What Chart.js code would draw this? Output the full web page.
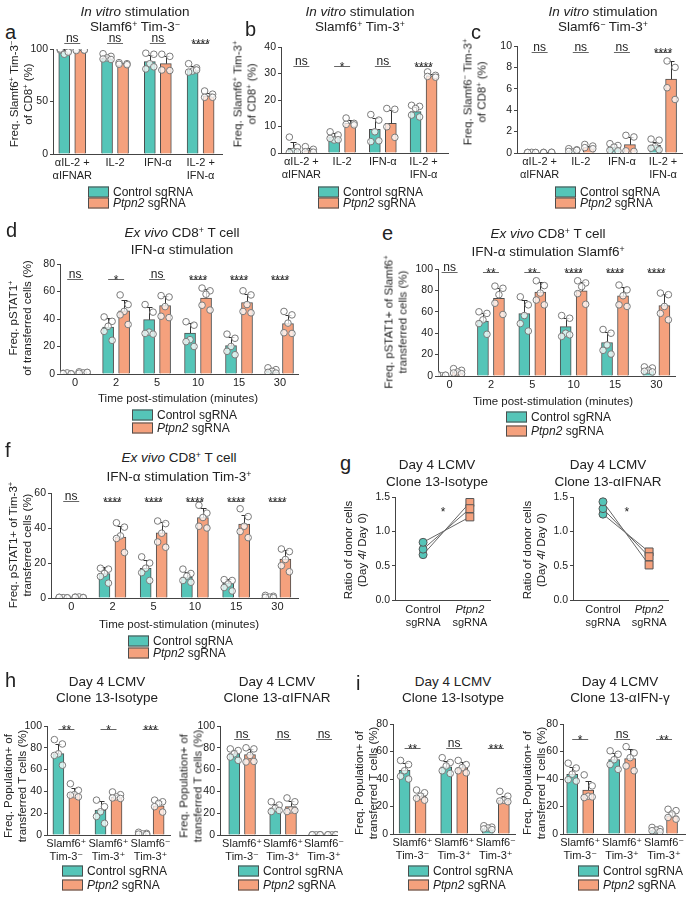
<!DOCTYPE html>
<html><head><meta charset="utf-8">
<script src="https://cdn.jsdelivr.net/npm/chart.js@4.4.1/dist/chart.umd.min.js"></script>
<style>
html,body{margin:0;padding:0;background:#fff}
body{width:689px;height:900px;position:relative;overflow:hidden;font-family:"Liberation Sans",Arial,Helvetica,sans-serif;color:#222}
canvas{position:absolute}
.t{position:absolute;white-space:nowrap;transform:translate(-50%,-50%);font-size:13.5px;line-height:1}
.let{position:absolute;white-space:nowrap;transform:translate(0,-50%);font-size:20px;line-height:1}
.yt{position:absolute;white-space:nowrap;transform:translate(-50%,-50%) rotate(-90deg);font-size:11.5px;line-height:13.5px;text-align:center}
.xt{position:absolute;white-space:nowrap;transform:translate(-50%,-50%);font-size:11.5px;line-height:1}
.lg{position:absolute;white-space:nowrap;transform:translate(0,-50%);font-size:12px;line-height:1}
.bx{position:absolute;width:19px;height:9px;border:1px solid #4d4d4d;transform:translate(0,-50%)}
sup{font-size:65%;vertical-align:0;position:relative;top:-0.5em;line-height:0}
</style>
</head><body>
<script>
// ---------------- DATA ----------------
const inVitroCats = [["αIL-2 +","αIFNAR"],"IL-2","IFN-α",["IL-2 +","IFN-α"]];
const timeCats = ["0","2","5","10","15","30"];
const popCats = [["Slamf6⁺","Tim-3⁻"],["Slamf6⁺","Tim-3⁺"],["Slamf6⁻","Tim-3⁺"]];

// a
const aCtrlMean = [97.6, 91, 88, 80.5];
const aCtrlSD   = [2.2, 2.2, 6.5, 3.2];
const aCtrlPts  = [[99,98,95,100,97],[95.5,93,91.5,90.5,90],[96,95,86,81,83],[86,82,79,78,80]];
const aPtpnMean = [98.8, 86, 86, 55.5];
const aPtpnSD   = [0.6, 1, 7, 3];
const aPtpnPts  = [[99.5,99,98.5,99],[87,86,85.5,85],[95,93,80,79.5],[60,57,54,54]];
const aSig = ["ns","ns","ns","****"];

// b
const bCtrlMean = [1.8, 6.1, 8.9, 15.6];
const bCtrlSD   = [2.4, 1.3, 4.3, 1.9];
const bCtrlPts  = [[6,2.2,0.6,0.2,0.4],[8,6.8,4.9,5.5,5],[14.5,12.4,8,4.3,4.6],[18,17.6,16.8,14.3,13.6]];
const bPtpnMean = [0.9, 11.2, 11.2, 29.1];
const bPtpnSD   = [1, 1.3, 5.2, 0.8];
const bPtpnPts  = [[2.4,1.4,0.5,0.3],[13.2,11.2,10.8,10.6],[16.8,16.5,9.9,5.9],[30.6,29.3,28.9,28.6]];
const bSig = ["ns","*","ns","****"];

// c
const cCtrlMean = [0.05, 0.25, 0.55, 0.72];
const cCtrlSD   = [0.03, 0.15, 0.3, 0.35];
const cCtrlPts  = [[0.05,0.03,0.06,0.04,0.05],[0.4,0.3,0.1,0.15,0.25],[0.87,0.7,0.55,0.25,0.2],[1.3,1.2,0.6,0.45,0.3]];
const cPtpnMean = [0.05, 0.55, 0.78, 6.9];
const cPtpnSD   = [0.03, 0.15, 0.75, 1.7];
const cPtpnPts  = [[0.06,0.05,0.04,0.07],[0.8,0.65,0.5,0.4],[1.65,1.5,0.2,0.15],[8.6,8.0,6.1,5.0]];
const cSig = ["ns","ns","ns","****"];

// d
const dCtrlMean = [0.4, 34.2, 39.5, 29.8, 20.6, 2.7];
const dCtrlSD   = [0.3, 6.5, 9.5, 7.5, 6.4, 1.6];
const dCtrlPts  = [[0.5,0.2,0.8,0.3,0.1],[41.5,38.3,34.7,31,24.5],[50.5,45,30.5,29.5,29],[38,35.5,25,23.5,20],[29,26,20,16.5,14],[4.5,3.2,2,1.2,0.7]];
const dPtpnMean = [1, 46, 49.7, 55.3, 52, 36.6];
const dPtpnSD   = [0.5, 8, 7, 6.5, 6.5, 6.5];
const dPtpnPts  = [[1.6,1.0,0.8,0.6,1.2],[57.5,50.5,45.5,43,36],[57,56,49,42,41],[62.5,60.5,58,50,46.5],[60.5,57.5,50.5,45.5,44.5],[45.5,43,37,30,29.5]];
const dSig = ["ns","*","ns","****","****","****"];

// e
const eCtrlMean = [0.8, 51.4, 58.3, 46.1, 31.3, 5.3];
const eCtrlSD   = [0.6, 7.5, 12.5, 8.5, 10, 2];
const eCtrlPts  = [[1.5,0.5,0.2,1,0.8],[60,58.5,52.5,49,39],[74,66.5,56.5,49,42],[56.5,54,40,37,38.5],[43.5,40,29,24,20.5],[8.5,7.5,5.3,4.4,3.8]];
const ePtpnMean = [3.8, 72.7, 78.4, 79.6, 74.9, 65.8];
const ePtpnSD   = [1.8, 10, 9, 8, 8.5, 10.5];
const ePtpnPts  = [[6.9,5.3,3.8,2.8,2.2],[84,82,76,68,57.5],[89,84.5,77.5,71,66.5],[89,87,83.5,77,67],[85,80.5,75,66.5,65],[77.5,76,65,58.5,52.5]];
const eSig = ["ns","**","**","****","****","****"];

// f
const fCtrlMean = [0.2, 14, 17, 12, 8.5, 0.7];
const fCtrlSD   = [0.15, 3.5, 4.5, 3, 2.5, 0.6];
const fCtrlPts  = [[0.3,0.1,0.2,0.4,0.1],[17,16.5,14,12.3,8.5],[23.5,20,17,14.5,10],[16.5,14,12.5,10,9],[10.5,10,8,6,4],[1.5,1,0.5,0.4,0.2]];
const fPtpnMean = [0.4, 34.8, 37.2, 46, 42.2, 22.3];
const fPtpnSD   = [0.2, 6.5, 6.5, 5.5, 5.5, 5];
const fPtpnPts  = [[0.5,0.3,0.6,0.4,0.2],[43,40.5,35.5,34,26],[44,42.5,37,32,29],[53,48.5,46,41,40],[51,46.5,41,38,34.5],[28,26.5,22,18.5,15]];
const fSig = ["ns","****","****","****","****","****"];

// g
const gIsoCtrl   = [0.84, 0.74, 0.66];
const gIsoPtpn   = [1.21, 1.33, 1.42];
const gIfnarCtrl = [1.43, 1.33, 1.25];
const gIfnarPtpn = [0.51, 0.63, 0.70];

// h
const hIsoCtrlMean = [74.7, 22.9, 1.5];
const hIsoCtrlSD   = [9, 8, 0.8];
const hIsoCtrlPts  = [[87.5,83.5,74.5,73,64],[32,26,21.3,17,10.7],[2.5,1.5,1,0.8,0.5]];
const hIsoPtpnMean = [38, 34.5, 26.8];
const hIsoPtpnSD   = [5, 2.5, 4];
const hIsoPtpnPts  = [[47,41,37,36.5,35],[39.5,37,35,34,33.5],[32,30.5,29,26,21]];
const hIsoSig = ["**","*","***"];
const hAbCtrlMean = [74.7, 25, 0.2];
const hAbCtrlSD   = [3.5, 3, 0.1];
const hAbCtrlPts  = [[79,77.5,74.5,71.5,68.5],[30.5,27.5,24.5,21.5,22.5],[0.2,0.3,0.1,0.2,0.2]];
const hAbPtpnMean = [73.8, 26, 0.2];
const hAbPtpnSD   = [5, 5, 0.1];
const hAbPtpnPts  = [[80,79,73,67,67.5],[34,30.5,23,21.5,22.5],[0.2,0.3,0.1,0.2,0.2]];
const hAbSig = ["ns","ns","ns"];

// i
const iIsoCtrlMean = [46.3, 48.8, 3.9];
const iIsoCtrlSD   = [5.5, 4.5, 1];
const iIsoCtrlPts  = [[53.5,50.5,46,42,40],[55.5,52,49.5,46,44],[6,5,4.4,3.7,3.2]];
const iIsoPtpnMean = [27.6, 48.3, 24.4];
const iIsoPtpnSD   = [2.5, 4, 3];
const iIsoPtpnPts  = [[32,30,27.6,26,24.6],[53.5,50.5,48.3,46,44.5],[31,27.5,24.5,24,23.5]];
const iIsoSig = ["**","ns","***"];
const iGamCtrlMean = [43.4, 54.2, 2.9];
const iGamCtrlSD   = [5, 4.5, 1];
const iGamCtrlPts  = [[51.5,48,43.5,39.5,38.5],[60.5,58,54,50.5,47],[4.8,3.6,2.9,2.4,1.7]];
const iGamPtpnMean = [32, 54.9, 13.3];
const iGamPtpnSD   = [6.5, 7, 3];
const iGamPtpnPts  = [[43,35,27.5,26.5,27],[63.5,59,55.5,49.5,46],[18,17,14.5,12,10.8]];
const iGamSig = ["*","ns","**"];

// ---------------- STYLE / LAYOUT ----------------
const FONT = "'Liberation Sans', Arial, Helvetica, 'DejaVu Sans', sans-serif";
Chart.defaults.font.family = FONT;
Chart.defaults.color = '#222';
const CYAN = '#55c5b8', ORANGE = '#f5a17d', EDGE = '#4d4d4d', AXIS = '#444';
const YW = 36, PT = 24, PR = 8, XH = 38;
const BAR_OFF_PX = 8, BAR_W = 11;
const TICK_PX = 10.5, CAT_PX = 11;
const JIT = {5: [-4, 4, 0, -4, 4], 4: [-4, 4, -4, 4]};

function mkCanvas(lay) {
  const c = document.createElement('canvas');
  const left = Math.round(lay.L - YW), top = Math.round(lay.T - PT);
  c.width = Math.round(lay.R - lay.L + YW + PR);
  c.height = Math.round(lay.B - lay.T + PT + XH);
  c.style.left = left + 'px'; c.style.top = top + 'px';
  document.body.appendChild(c);
  return c;
}

const errPlugin = {
  id: 'errbars',
  afterDatasetDraw(chart, args) {
    const ds = chart.data.datasets[args.index];
    if (!ds.sd) return;
    const ctx = chart.ctx, ys = chart.scales.y;
    ctx.save(); ctx.strokeStyle = '#333'; ctx.lineWidth = 1;
    args.meta.data.forEach((el, i) => {
      const top = Math.round(ys.getPixelForValue(ds.data[i].y + ds.sd[i])) + 0.5;
      const x = Math.round(el.x) + 0.5;
      ctx.beginPath(); ctx.moveTo(x, el.y); ctx.lineTo(x, top);
      ctx.moveTo(x - 3, top); ctx.lineTo(x + 3, top); ctx.stroke();
    });
    ctx.restore();
  }
};

const sigPlugin = {
  id: 'sig',
  afterDraw(chart, args, opts) {
    if (!opts || !opts.labels) return;
    const ctx = chart.ctx, xs = chart.scales.x, ys = chart.scales.y;
    const py = Math.round(ys.getPixelForValue(opts.y)) + 0.5;
    ctx.save();
    opts.labels.forEach((lab, i) => {
      const px = xs.getPixelForValue(i);
      ctx.strokeStyle = '#666'; ctx.lineWidth = 1;
      ctx.beginPath(); ctx.moveTo(px - 8, py); ctx.lineTo(px + 8, py); ctx.stroke();
      ctx.fillStyle = '#222'; ctx.textAlign = 'center'; ctx.textBaseline = 'alphabetic';
      if (lab === 'ns') { ctx.font = '12px ' + FONT; ctx.fillText(lab, px, py - 2); }
      else { ctx.font = '12px ' + FONT; ctx.fillText(lab, px, py + 4); }
    });
    ctx.restore();
  }
};

function dotData(pts, offPx, unitPx) {
  const out = [];
  pts.forEach((arr, i) => {
    const jit = JIT[arr.length] || arr.map(() => 0);
    arr.forEach((v, k) => out.push({x: i + (offPx + jit[k]) / unitPx, y: v}));
  });
  return out;
}

function yScale(lay) {
  return {
    min: 0, max: lay.yMax,
    afterFit: s => { s.width = YW; },
    ticks: {stepSize: lay.yStep, padding: 2, color: '#222', font: {size: TICK_PX},
            callback: v => lay.dec ? Number(v).toFixed(lay.dec) : v},
    grid: {display: true, drawOnChartArea: false, drawTicks: true, tickLength: 3, color: AXIS, lineWidth: 1},
    border: {display: true, color: AXIS, width: 1}
  };
}

function barChart(lay, cats, cm, csd, cp, pm, psd, pp, sig) {
  const c = mkCanvas(lay);
  const unitPx = (lay.R - lay.L) / (lay.xMax - lay.xMin);
  const off = BAR_OFF_PX / unitPx;
  const dotStyle = {pointRadius: 3.3, pointBackgroundColor: 'rgba(255,255,255,0.75)', pointBorderColor: '#7a7a7a', pointBorderWidth: 1, order: 1};
  new Chart(c, {
    type: 'bar',
    data: {datasets: [
      {type: 'bar', data: cm.map((v, i) => ({x: i - off, y: v})), sd: csd, backgroundColor: CYAN, borderColor: EDGE, borderWidth: 1, barThickness: BAR_W, grouped: false, order: 2},
      {type: 'bar', data: pm.map((v, i) => ({x: i + off, y: v})), sd: psd, backgroundColor: ORANGE, borderColor: EDGE, borderWidth: 1, barThickness: BAR_W, grouped: false, order: 2},
      Object.assign({type: 'scatter', data: dotData(cp, -BAR_OFF_PX, unitPx)}, dotStyle),
      Object.assign({type: 'scatter', data: dotData(pp, BAR_OFF_PX, unitPx)}, dotStyle)
    ]},
    options: {
      responsive: false, animation: false, events: [],
      layout: {padding: {top: PT, right: PR, left: 0, bottom: 0}},
      plugins: {legend: {display: false}, tooltip: {enabled: false}, sig: {labels: sig, y: lay.sigY}},
      scales: {
        x: {type: 'linear', min: lay.xMin, max: lay.xMax, offset: false,
            afterFit: s => { s.height = XH; },
            afterBuildTicks: s => { s.ticks = cats.map((_, i) => ({value: i})); },
            ticks: {autoSkip: false, maxRotation: 0, minRotation: 0, padding: 3, color: '#222',
                    font: {size: CAT_PX, lineHeight: 1.15}, callback: v => cats[Math.round(v)]},
            grid: {display: false, drawTicks: false},
            border: {display: true, color: AXIS, width: 1}},
        y: yScale(lay)
      }
    },
    plugins: [errPlugin, sigPlugin]
  });
}

const pairPlugin = {
  id: 'pairlab',
  afterDraw(chart, args, opts) {
    const ctx = chart.ctx, xs = chart.scales.x, ys = chart.scales.y;
    const b = chart.chartArea.bottom;
    ctx.save(); ctx.fillStyle = '#222'; ctx.textAlign = 'center'; ctx.textBaseline = 'middle';
    ctx.font = CAT_PX + 'px ' + FONT;
    ctx.fillText('Control', xs.getPixelForValue(0), b + 10);
    ctx.fillText('sgRNA', xs.getPixelForValue(0), b + 23);
    ctx.fillText('sgRNA', xs.getPixelForValue(1), b + 23);
    ctx.font = 'italic ' + CAT_PX + 'px ' + FONT;
    ctx.fillText('Ptpn2', xs.getPixelForValue(1), b + 10);
    ctx.font = '12px ' + FONT; ctx.textBaseline = 'alphabetic';
    ctx.fillText('*', xs.getPixelForValue(opts.starX), ys.getPixelForValue(opts.starY) + 5);
    ctx.restore();
  }
};

function pairChart(lay, ctrl, ptpn) {
  const c = mkCanvas(lay);
  const datasets = ctrl.map((v, k) => ({
    type: 'line', data: [{x: 0, y: v}, {x: 1, y: ptpn[k]}],
    borderColor: '#666', borderWidth: 1, fill: false,
    pointStyle: ['circle', 'rect'], pointRadius: [4, 5.6],
    pointBackgroundColor: [CYAN, ORANGE], pointBorderColor: '#555', pointBorderWidth: 1
  }));
  new Chart(c, {
    type: 'line', data: {datasets},
    options: {
      responsive: false, animation: false, events: [],
      layout: {padding: {top: PT, right: PR, left: 0, bottom: 0}},
      plugins: {legend: {display: false}, tooltip: {enabled: false}, pairlab: {starX: lay.starX, starY: lay.starY}},
      scales: {
        x: {type: 'linear', min: lay.xMin, max: lay.xMax, offset: false,
            afterFit: s => { s.height = XH; },
            ticks: {display: false}, grid: {display: false, drawTicks: false},
            border: {display: true, color: AXIS, width: 1}},
        y: yScale(lay)
      }
    },
    plugins: [pairPlugin]
  });
}

// ---------------- CHARTS ----------------
barChart({L: 53, R: 222, T: 49, B: 154, xMin: -0.45, xMax: 3.5, yMax: 100, yStep: 50, sigY: 106},
  inVitroCats, aCtrlMean, aCtrlSD, aCtrlPts, aPtpnMean, aPtpnSD, aPtpnPts, aSig);
barChart({L: 281, R: 448, T: 47, B: 153, xMin: -0.5, xMax: 3.6, yMax: 40, yStep: 10, sigY: 32.8},
  inVitroCats, bCtrlMean, bCtrlSD, bCtrlPts, bPtpnMean, bPtpnSD, bPtpnPts, bSig);
barChart({L: 517, R: 682, T: 46, B: 153, xMin: -0.55, xMax: 3.46, yMax: 10, yStep: 2, sigY: 9.44},
  inVitroCats, cCtrlMean, cCtrlSD, cCtrlPts, cPtpnMean, cPtpnSD, cPtpnPts, cSig);
barChart({L: 60, R: 298, T: 264, B: 374, xMin: -0.37, xMax: 5.44, yMax: 80, yStep: 20, sigY: 69.3},
  timeCats, dCtrlMean, dCtrlSD, dCtrlPts, dPtpnMean, dPtpnSD, dPtpnPts, dSig);
barChart({L: 438, R: 675, T: 269, B: 376, xMin: -0.28, xMax: 5.45, yMax: 100, yStep: 20, sigY: 96.9},
  timeCats, eCtrlMean, eCtrlSD, eCtrlPts, ePtpnMean, ePtpnSD, ePtpnPts, eSig);
barChart({L: 51, R: 298, T: 493, B: 598, xMin: -0.49, xMax: 5.5, yMax: 60, yStep: 20, sigY: 55.5},
  timeCats, fCtrlMean, fCtrlSD, fCtrlPts, fPtpnMean, fPtpnSD, fPtpnPts, fSig);
pairChart({L: 395, R: 490, T: 497, B: 600, xMin: -0.6, xMax: 1.43, yMax: 1.5, yStep: 0.5, dec: 1, starX: 0.43, starY: 1.3},
  gIsoCtrl, gIsoPtpn);
pairChart({L: 573, R: 668, T: 497, B: 600, xMin: -0.65, xMax: 1.41, yMax: 1.5, yStep: 0.5, dec: 1, starX: 0.52, starY: 1.3},
  gIfnarCtrl, gIfnarPtpn);
barChart({L: 47, R: 170, T: 726, B: 835, xMin: -0.46, xMax: 2.46, yMax: 100, yStep: 20, sigY: 97.6},
  popCats, hIsoCtrlMean, hIsoCtrlSD, hIsoCtrlPts, hIsoPtpnMean, hIsoPtpnSD, hIsoPtpnPts, hIsoSig);
barChart({L: 220, R: 340, T: 726, B: 835, xMin: -0.54, xMax: 2.34, yMax: 100, yStep: 20, sigY: 88.4},
  popCats, hAbCtrlMean, hAbCtrlSD, hAbCtrlPts, hAbPtpnMean, hAbPtpnSD, hAbPtpnPts, hAbSig);
barChart({L: 393, R: 515, T: 724, B: 834, xMin: -0.47, xMax: 2.46, yMax: 80, yStep: 20, sigY: 62.2},
  popCats, iIsoCtrlMean, iIsoCtrlSD, iIsoCtrlPts, iIsoPtpnMean, iIsoPtpnSD, iIsoPtpnPts, iIsoSig);
barChart({L: 563, R: 685, T: 724, B: 834, xMin: -0.41, xMax: 2.5, yMax: 80, yStep: 20, sigY: 69.2},
  popCats, iGamCtrlMean, iGamCtrlSD, iGamCtrlPts, iGamPtpnMean, iGamPtpnSD, iGamPtpnPts, iGamSig);

// ---------------- TEXT ----------------
function put(cls, html, x, y) {
  const d = document.createElement('div');
  d.className = cls; d.innerHTML = html;
  d.style.left = x + 'px'; d.style.top = y + 'px';
  document.body.appendChild(d);
}
function legend(x, y1, y2) {
  const b1 = document.createElement('div'); b1.className = 'bx'; b1.style.left = x + 'px'; b1.style.top = y1 + 'px'; b1.style.background = CYAN; document.body.appendChild(b1);
  const b2 = document.createElement('div'); b2.className = 'bx'; b2.style.left = x + 'px'; b2.style.top = y2 + 'px'; b2.style.background = ORANGE; document.body.appendChild(b2);
  put('lg', 'Control sgRNA', x + 25, y1);
  put('lg', '<i>Ptpn2</i> sgRNA', x + 25, y2);
}
const IV = '<i>In vitro</i> stimulation';
const EV = '<i>Ex vivo</i> CD8<sup>+</sup> T cell';
const P = '<sup>+</sup>', M = '<sup>−</sup>';

put('let', 'a', 5, 32); put('let', 'b', 245, 29); put('let', 'c', 471, 32);
put('t', IV, 135, 12); put('t', 'Slamf6' + P + ' Tim-3' + M, 135, 27);
put('t', IV, 360, 12); put('t', 'Slamf6' + P + ' Tim-3' + P, 360, 27);
put('t', IV, 603, 12); put('t', 'Slamf6' + M + ' Tim-3' + P, 603, 27);
put('yt', 'Freq. Slamf6' + P + ' Tim-3' + M + '<br>of CD8' + P + ' (%)', 21, 94);
put('yt', 'Freq. Slamf6' + P + ' Tim-3' + P + '<br>of CD8' + P + ' (%)', 245, 94);
put('yt', 'Freq. Slamf6' + M + ' Tim-3' + P + '<br>of CD8' + P + ' (%)', 475, 92);
legend(88, 192, 203); legend(318, 192, 203); legend(555, 192, 203);

put('let', 'd', 6, 230); put('let', 'e', 382, 233);
put('t', EV, 182, 233); put('t', 'IFN-α stimulation', 182, 250);
put('t', EV, 548, 234); put('t', 'IFN-α stimulation Slamf6' + P, 548, 252);
put('yt', 'Freq. pSTAT1' + P + '<br>of transferred cells (%)', 20, 318);
put('yt', 'Freq. pSTAT1+ of Slamf6' + P + '<br>transferred cells (%)', 396, 322);
put('xt', 'Time post-stimulation (minutes)', 178, 399);
put('xt', 'Time post-stimulation (minutes)', 553, 402);
legend(132, 415, 428); legend(506, 417, 431);

put('let', 'f', 5, 450); put('let', 'g', 340, 463);
put('t', EV, 179, 458); put('t', 'IFN-α stimulation Tim-3' + P, 179, 477);
put('yt', 'Freq. pSTAT1+ of Tim-3' + P + '<br>transferred cells (%)', 20, 545);
put('xt', 'Time post-stimulation (minutes)', 179, 625);
legend(128, 641, 653);
put('t', 'Day 4 LCMV', 437, 465); put('t', 'Clone 13-Isotype', 437, 482);
put('t', 'Day 4 LCMV', 608, 465); put('t', 'Clone 13-αIFNAR', 608, 482);
put('yt', 'Ratio of donor cells<br>(Day <i>4</i>/ Day 0)', 355, 550);
put('yt', 'Ratio of donor cells<br>(Day <i>4</i>/ Day 0)', 534, 550);

put('let', 'h', 5, 680); put('let', 'i', 356, 683);
put('t', 'Day 4 LCMV', 107, 682); put('t', 'Clone 13-Isotype', 107, 698);
put('t', 'Day 4 LCMV', 277, 682); put('t', 'Clone 13-αIFNAR', 277, 698);
put('t', 'Day 4 LCMV', 453, 682); put('t', 'Clone 13-Isotype', 453, 698);
put('t', 'Day 4 LCMV', 620, 682); put('t', 'Clone 13-αIFN-γ', 620, 698);
const PY = 'Freq. Population+ of<br>transferred T cells (%)';
put('yt', PY, 15, 786); put('yt', PY, 191, 786); put('yt', PY, 366, 783); put('yt', PY, 534, 783);
legend(62, 871, 885); legend(238, 871, 885); legend(408, 871, 885); legend(578, 871, 885);
</script>
</body></html>
